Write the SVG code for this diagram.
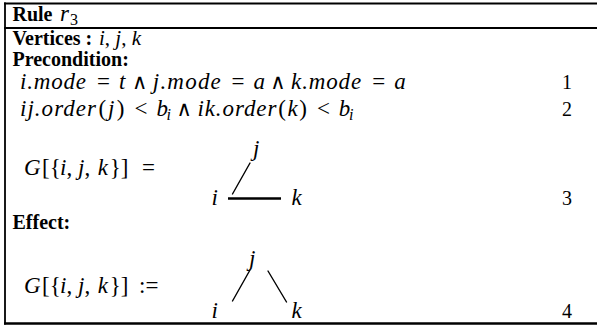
<svg xmlns="http://www.w3.org/2000/svg" width="597" height="326" viewBox="0 0 597 326">
<style>
.t{font-family:"Liberation Serif",serif;font-size:20px;font-weight:bold;fill:#000}
.m{font-family:"Liberation Serif",serif;font-size:23px;font-style:italic;font-weight:normal;fill:#000}
.u{font-family:"Liberation Serif",serif;font-size:23px;font-style:normal;font-weight:normal;fill:#000}
.w{font-family:"DejaVu Sans","DejaVu Serif",sans-serif;font-size:21px;font-style:normal;font-weight:200;fill:#000}
.s{font-size:16px}
.v{font-size:21px}
.n{font-family:"Liberation Serif",serif;font-size:20px;fill:#000}
.frame{stroke:#000;fill:none;stroke-width:1.8}
.edge{stroke:#000;stroke-width:1.4;fill:none;stroke-linecap:round}
.bold{stroke-width:2.6;stroke-linecap:butt}
</style>
<rect width="597" height="326" fill="#fff"/>
<g id="frame" class="frame">
<line x1="4" y1="3.5" x2="597" y2="3.5"/>
<line x1="5" y1="2.6" x2="5" y2="324.5"/>
<line x1="4" y1="28" x2="597" y2="28"/>
<line x1="4" y1="323.5" x2="597" y2="323.5" stroke-width="2.5"/>
</g>
<g id="header">
<text class="t" x="12.5" y="21">Rule <tspan class="m" x="60">r</tspan><tspan class="u s" x="70" dy="3.5">3</tspan></text>
<text class="t" x="12.5" y="45">Vertices : <tspan class="m v" x="99">i<tspan class="u v">, </tspan>j<tspan class="u v">, </tspan>k</tspan></text>
<text class="t" x="12.5" y="66">Precondition:</text>
</g>
<g id="conditions">
<text class="m" y="89"><tspan x="20" textLength="66" lengthAdjust="spacing">i.mode</tspan><tspan class="u" x="97">=</tspan><tspan x="119">t</tspan><tspan class="w" x="132">∧</tspan><tspan x="152.8" textLength="68" lengthAdjust="spacing">j.mode</tspan><tspan class="u" x="231.5">=</tspan><tspan x="253.4">a</tspan><tspan class="w" x="270.3">∧</tspan><tspan x="291.1" textLength="70" lengthAdjust="spacing">k.mode</tspan><tspan class="u" x="372.3">=</tspan><tspan x="394.2">a</tspan></text>
<text class="m" y="116"><tspan x="20" textLength="76" lengthAdjust="spacing">ij.order</tspan><tspan class="u" x="98.4">(</tspan><tspan x="108">j</tspan><tspan class="u" x="116.8">)</tspan><tspan class="u" x="134.5">&lt;</tspan><tspan x="156.4">b</tspan><tspan class="s" x="166.6" dy="4">i</tspan><tspan class="w" x="176.5" dy="-4">∧</tspan><tspan x="197.4" textLength="79" lengthAdjust="spacing">ik.order</tspan><tspan class="u" x="278.3">(</tspan><tspan x="287.5">k</tspan><tspan class="u" x="299.2">)</tspan><tspan class="u" x="317">&lt;</tspan><tspan x="338.8">b</tspan><tspan class="s" x="349" dy="4">i</tspan></text>
<text class="n" x="562" y="89">1</text>
<text class="n" x="562" y="116">2</text>
</g>
<g id="pattern">
<text class="m" y="175"><tspan x="24">G</tspan><tspan class="u" x="42.1">[{</tspan><tspan x="60">i</tspan><tspan class="u">,</tspan><tspan x="78.1">j</tspan><tspan class="u">,</tspan><tspan x="97.8">k</tspan><tspan class="u" x="109.8">}]</tspan><tspan class="u" x="142">=</tspan></text>
<text class="n" x="562" y="205">3</text>
</g>
<g id="g1-j"><text class="m" x="253" y="156">j</text></g>
<g id="g1-i"><text class="m" x="211.5" y="205">i</text></g>
<g id="g1-k"><text class="m" x="291.5" y="205">k</text></g>
<g id="g1-edges">
<line class="edge" x1="232.5" y1="194" x2="250" y2="163"/>
<line class="edge bold" x1="228" y1="198.5" x2="281" y2="198.5"/>
</g>
<g id="effect">
<text class="t" x="12.5" y="229">Effect:</text>
<text class="m" y="293"><tspan x="24">G</tspan><tspan class="u" x="42.1">[{</tspan><tspan x="60">i</tspan><tspan class="u">,</tspan><tspan x="78.1">j</tspan><tspan class="u">,</tspan><tspan x="97.8">k</tspan><tspan class="u" x="109.8">}]</tspan><tspan class="u" x="139">:=</tspan></text>
<text class="n" x="562" y="318">4</text>
</g>
<g id="g2-j"><text class="m" x="249" y="266">j</text></g>
<g id="g2-i"><text class="m" x="211.5" y="318">i</text></g>
<g id="g2-k"><text class="m" x="291.5" y="318">k</text></g>
<g id="g2-edges">
<line class="edge" x1="232.5" y1="301" x2="250" y2="270"/>
<line class="edge" x1="268" y1="271" x2="286.5" y2="302"/>
</g>
</svg>
